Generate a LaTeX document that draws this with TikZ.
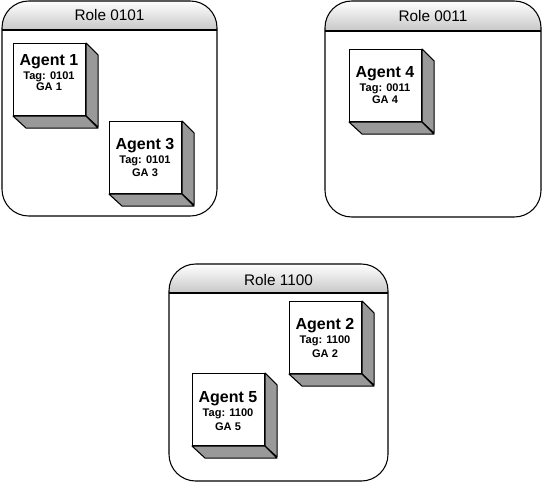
\documentclass[tikz,border=0pt]{standalone}
\usepackage{fontspec}
\setmainfont{Liberation Sans}
\begin{document}
\begin{tikzpicture}[x=0.75pt, y=-0.75pt,
    rolebox/.style={draw, line width=0.8pt, rounded corners=20pt},
    header/.style={top color=white, bottom color=black!22},
    face/.style={draw, fill=white, line width=0.8pt, minimum size=54pt, inner sep=0pt, anchor=north west},
    side/.style={draw, fill=black!40, line width=0.8pt, line join=round},
    rtitle/.style={anchor=base, font=\fontsize{11.5}{13}\selectfont},
    atitle/.style={anchor=base, font=\bfseries\fontsize{12}{14}\selectfont},
    aline/.style={anchor=base, font=\bfseries\fontsize{8.3}{9.5}\selectfont}]
        \useasboundingbox (0,0) rectangle (542,482);

        % Role 0101
        \begin{scope}
            \clip[rounded corners=20pt] (2,1) rectangle (217,216);
            \shade[header] (2,1) rectangle (217,30);
        \end{scope}
        \draw[rolebox] (2,1) rectangle (217,216);
        \draw[line width=0.8pt] (2,30) -- (217,30);
        \node[rtitle] (r0101) at (109.5,20) {Role 0101};

        % Role 0011
        \begin{scope}
            \clip[rounded corners=20pt] (325,1) rectangle (541,217);
            \shade[header] (325,1) rectangle (541,31);
        \end{scope}
        \draw[rolebox] (325,1) rectangle (541,217);
        \draw[line width=0.8pt] (325,31) -- (541,31);
        \node[rtitle] (r0011) at (433,21) {Role 0011};

        % Role 1100
        \begin{scope}
            \clip[rounded corners=20pt] (169,264) rectangle (388,481);
            \shade[header] (169,264) rectangle (388,293);
        \end{scope}
        \draw[rolebox] (169,264) rectangle (388,481);
        \draw[line width=0.8pt] (169,293) -- (388,293);
        \node[rtitle] (r1100) at (278.5,285) {Role 1100};

        % Agent 1
        \node[face] (a1) at (13,43) {};
        \draw[side] (a1.north east) -- ++(12,12) -- ++(0,72) -- (a1.south east) -- cycle;
        \draw[side] (a1.south west) -- (a1.south east) -- ++(12,12) -- ++(-72,0) -- cycle;
        \node[atitle] (a1name) at (49,65) {Agent 1};
        \node[aline] (a1tag) at (49,79) {Tag: 0101};
        \node[aline] (a1ga) at (49,90) {GA 1};

        % Agent 3
        \node[face] (a3) at (109,121) {};
        \draw[side] (a3.north east) -- ++(12,12) -- ++(0,72) -- (a3.south east) -- cycle;
        \draw[side] (a3.south west) -- (a3.south east) -- ++(12,12) -- ++(-72,0) -- cycle;
        \node[atitle] (a3name) at (145,149) {Agent 3};
        \node[aline] (a3tag) at (145,163) {Tag: 0101};
        \node[aline] (a3ga) at (145,176) {GA 3};

        % Agent 4
        \node[face] (a4) at (349,49) {};
        \draw[side] (a4.north east) -- ++(12,12) -- ++(0,72) -- (a4.south east) -- cycle;
        \draw[side] (a4.south west) -- (a4.south east) -- ++(12,12) -- ++(-72,0) -- cycle;
        \node[atitle] (a4name) at (385,77) {Agent 4};
        \node[aline] (a4tag) at (385,91) {Tag: 0011};
        \node[aline] (a4ga) at (385,103) {GA 4};

        % Agent 2
        \node[face] (a2) at (289,301) {};
        \draw[side] (a2.north east) -- ++(12,12) -- ++(0,72) -- (a2.south east) -- cycle;
        \draw[side] (a2.south west) -- (a2.south east) -- ++(12,12) -- ++(-72,0) -- cycle;
        \node[atitle] (a2name) at (325,329) {Agent 2};
        \node[aline] (a2tag) at (325,343) {Tag: 1100};
        \node[aline] (a2ga) at (325,357) {GA 2};

        % Agent 5
        \node[face] (a5) at (192,373) {};
        \draw[side] (a5.north east) -- ++(12,12) -- ++(0,72) -- (a5.south east) -- cycle;
        \draw[side] (a5.south west) -- (a5.south east) -- ++(12,12) -- ++(-72,0) -- cycle;
        \node[atitle] (a5name) at (228,402) {Agent 5};
        \node[aline] (a5tag) at (228,416) {Tag: 1100};
        \node[aline] (a5ga) at (228,430) {GA 5};
    \end{tikzpicture}
\end{document}
